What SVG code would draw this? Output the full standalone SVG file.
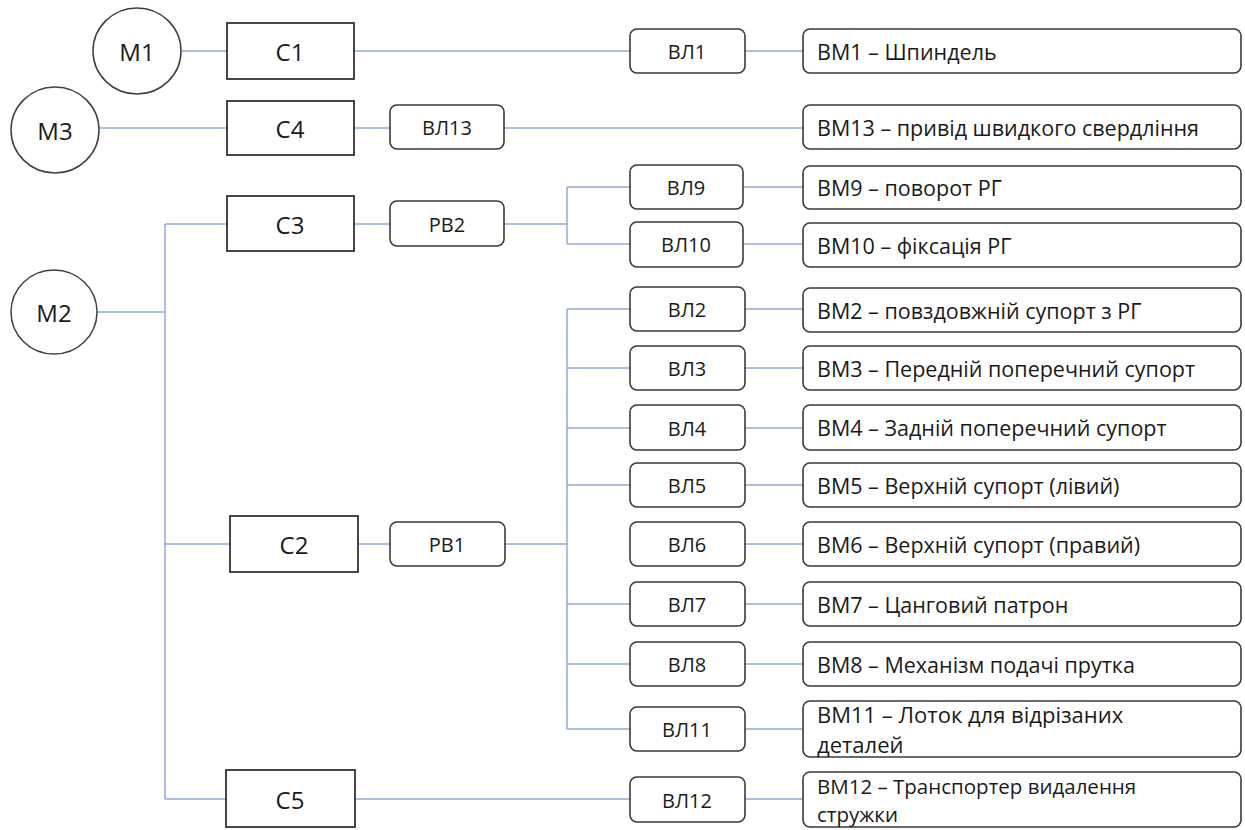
<svg xmlns="http://www.w3.org/2000/svg" width="1245" height="830" viewBox="0 0 1245 830">
<style>
.bg{fill:#ffffff}
.m{fill:#ffffff;stroke:#404040;stroke-width:1.5}
.c{fill:#ffffff;stroke:#333333;stroke-width:1.8}
.v{fill:#ffffff;stroke:#3a3a3a;stroke-width:1.6}
.w{stroke:#94abd8;stroke-width:1.5;fill:none}
text{font-family:"Open Sans","Liberation Sans",sans-serif;fill:#1a1a1a}
.lbl{font-size:24px;text-anchor:middle;dominant-baseline:central}
.vl{font-size:20px;text-anchor:middle;dominant-baseline:central}
.bm{font-size:21.5px;dominant-baseline:central}
.bm2{font-size:22px}
.bm3{font-size:20.5px}
</style>
<rect class="bg" x="0" y="0" width="1245" height="830"/>
<g id="connectors">
<path class="w" d="M181,51H227M354,51H630M745,51H803"/>
<path class="w" d="M99,128H227M354,128H390M504,128H803"/>
<path class="w" d="M97,312H165M165,224V799M165,224H227M165,544H230M165,799H226"/>
<path class="w" d="M354,224H390M504,224H567M567,187V244M567,187H630M567,244H630M743,187H803M743,244H803"/>
<path class="w" d="M358,544H390M505,544H567M567,309V729"/>
<path class="w" d="M567,309H630M567,368H630M567,428H630M567,485H630M567,604H630M567,664H630M567,729H630"/>
<path class="w" d="M745,309H803M745,368H803M745,428H803M745,485H803M745,544H803M745,604H803M745,664H803M745,729H803"/>
<path class="w" d="M355,799H630M745,799H803"/>
</g>
<g id="M1"><ellipse class="m" cx="137" cy="51" rx="44" ry="43"/><text class="lbl" x="137" y="51">M1</text></g>
<g id="M3"><ellipse class="m" cx="55" cy="130" rx="44" ry="43"/><text class="lbl" x="55" y="130">M3</text></g>
<g id="M2"><ellipse class="m" cx="54" cy="312" rx="43" ry="42"/><text class="lbl" x="54" y="312">M2</text></g>
<g id="C1"><rect class="c" x="227" y="23" width="127" height="56"/><text class="lbl" x="290" y="51">C1</text></g>
<g id="C4"><rect class="c" x="227" y="101" width="127" height="54"/><text class="lbl" x="290" y="128">C4</text></g>
<g id="C3"><rect class="c" x="227" y="196" width="127" height="55"/><text class="lbl" x="290" y="224">C3</text></g>
<g id="C2"><rect class="c" x="230" y="516" width="128" height="56"/><text class="lbl" x="294" y="544">C2</text></g>
<g id="C5"><rect class="c" x="226" y="770" width="129" height="57"/><text class="lbl" x="290" y="799">C5</text></g>
<g id="VL13"><rect class="v" x="390" y="105" width="114" height="44" rx="7"/><text class="vl" x="447" y="127">ВЛ13</text></g>
<g id="RV2"><rect class="v" x="390" y="201" width="114" height="45" rx="7"/><text class="vl" x="447" y="224">РВ2</text></g>
<g id="RV1"><rect class="v" x="390" y="522" width="115" height="44" rx="7"/><text class="vl" x="447" y="544">РВ1</text></g>
<g id="VL1"><rect class="v" x="630" y="29" width="115" height="44" rx="7"/><text class="vl" x="687" y="51">ВЛ1</text></g>
<g id="VL9"><rect class="v" x="630" y="165" width="113" height="44" rx="7"/><text class="vl" x="686" y="187">ВЛ9</text></g>
<g id="VL10"><rect class="v" x="630" y="222" width="113" height="45" rx="7"/><text class="vl" x="686" y="244">ВЛ10</text></g>
<g id="VL2"><rect class="v" x="630" y="287" width="115" height="44" rx="7"/><text class="vl" x="687" y="309">ВЛ2</text></g>
<g id="VL3"><rect class="v" x="630" y="346" width="115" height="44" rx="7"/><text class="vl" x="687" y="368">ВЛ3</text></g>
<g id="VL4"><rect class="v" x="630" y="405" width="115" height="45" rx="7"/><text class="vl" x="687" y="428">ВЛ4</text></g>
<g id="VL5"><rect class="v" x="630" y="463" width="115" height="44" rx="7"/><text class="vl" x="687" y="485">ВЛ5</text></g>
<g id="VL6"><rect class="v" x="630" y="522" width="115" height="44" rx="7"/><text class="vl" x="687" y="544">ВЛ6</text></g>
<g id="VL7"><rect class="v" x="630" y="582" width="115" height="44" rx="7"/><text class="vl" x="687" y="604">ВЛ7</text></g>
<g id="VL8"><rect class="v" x="630" y="642" width="115" height="44" rx="7"/><text class="vl" x="687" y="664">ВЛ8</text></g>
<g id="VL11"><rect class="v" x="630" y="707" width="115" height="44" rx="7"/><text class="vl" x="687" y="729">ВЛ11</text></g>
<g id="VL12"><rect class="v" x="630" y="777" width="115" height="45" rx="7"/><text class="vl" x="687" y="800">ВЛ12</text></g>
<g id="BM1"><rect class="v" x="803" y="29" width="438" height="44" rx="7"/><text class="bm" x="817" y="51">ВМ1 – Шпиндель</text></g>
<g id="BM13"><rect class="v" x="803" y="105" width="438" height="44" rx="7"/><text class="bm" x="817" y="127">ВМ13 – привід швидкого свердління</text></g>
<g id="BM9"><rect class="v" x="803" y="166" width="438" height="43" rx="7"/><text class="bm" x="817" y="187">ВМ9 – поворот РГ</text></g>
<g id="BM10"><rect class="v" x="803" y="223" width="438" height="44" rx="7"/><text class="bm" x="817" y="245">ВМ10 – фіксація РГ</text></g>
<g id="BM2"><rect class="v" x="803" y="288" width="438" height="44" rx="7"/><text class="bm" x="817" y="310">ВМ2 – повздовжній супорт з РГ</text></g>
<g id="BM3"><rect class="v" x="803" y="346" width="438" height="44" rx="7"/><text class="bm" x="817" y="368">ВМ3 – Передній поперечний супорт</text></g>
<g id="BM4"><rect class="v" x="803" y="405" width="438" height="45" rx="7"/><text class="bm" x="817" y="427">ВМ4 – Задній поперечний супорт</text></g>
<g id="BM5"><rect class="v" x="803" y="463" width="438" height="44" rx="7"/><text class="bm" x="817" y="485">ВМ5 – Верхній супорт (лівий)</text></g>
<g id="BM6"><rect class="v" x="803" y="522" width="438" height="44" rx="7"/><text class="bm" x="817" y="544">ВМ6 – Верхній супорт (правий)</text></g>
<g id="BM7"><rect class="v" x="803" y="582" width="438" height="44" rx="7"/><text class="bm" x="817" y="604">ВМ7 – Цанговий патрон</text></g>
<g id="BM8"><rect class="v" x="803" y="642" width="438" height="44" rx="7"/><text class="bm" x="817" y="664">ВМ8 – Механізм подачі прутка</text></g>
<g id="BM11"><rect class="v" x="803" y="701" width="438" height="56" rx="7"/><text class="bm bm2" x="817" y="714">ВМ11 – Лоток для відрізаних</text><text class="bm bm2" x="817" y="744">деталей</text></g>
<g id="BM12"><rect class="v" x="803" y="772" width="438" height="55" rx="7"/><text class="bm bm3" x="817" y="786">ВМ12 – Транспортер видалення</text><text class="bm bm3" x="817" y="814">стружки</text></g>
</svg>
